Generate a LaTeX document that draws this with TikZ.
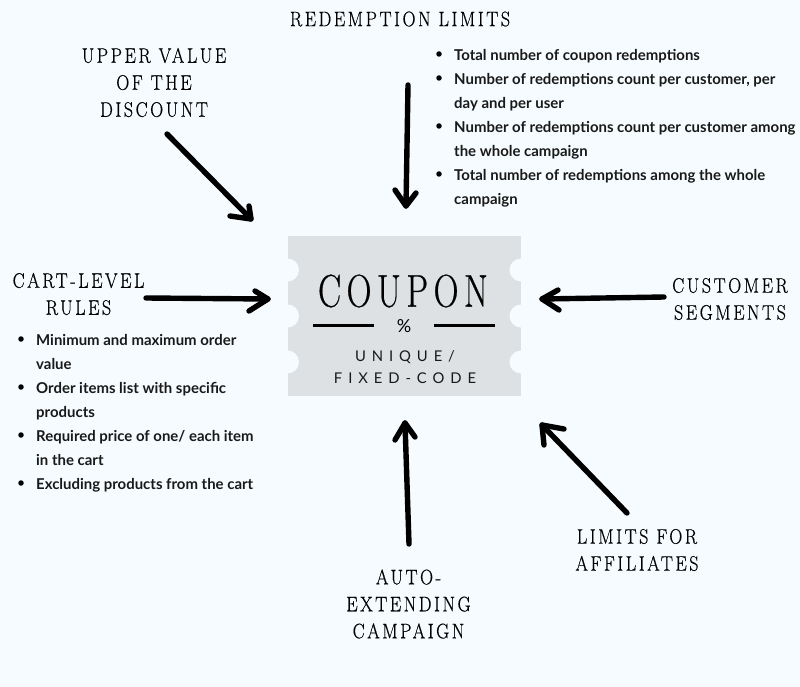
\documentclass[tikz,border=0pt]{standalone}
\usepackage{fontspec}
\usetikzlibrary{arrows.meta}
\newfontfamily\bodyfont{Lato}[BoldFont=* Bold]
\newfontfamily\headfont[LetterSpace=14,FakeBold=0.5]{Latin Modern Roman}
\newfontfamily\bigfont[LetterSpace=16,FakeBold=0.6]{Latin Modern Roman}
\newfontfamily\wideletters[LetterSpace=40]{Lato}
\definecolor{pagebg}{HTML}{F5FBFE}
\definecolor{ticket}{HTML}{DDE1E3}
\tikzset{
  x=1pt,y=-1pt,
  heading/.style={font=\headfont\fontsize{21}{27}\selectfont,align=center,inner sep=0pt,xscale=.86,text=black},
  listline/.style={font=\bodyfont\bfseries\fontsize{14.95}{24}\selectfont,anchor=base west,inner sep=0pt,text=black!90},
  bulletdot/.style={circle,fill=black,inner sep=0pt,minimum size=5.5pt},
  bigarrow/.style={line width=5.4pt,line cap=round,line join=round,black},
  rulebar/.style={line width=3pt,black},
  codetext/.style={font=\wideletters\fontsize{14.8}{22}\selectfont,align=center,inner sep=0pt,text=black!90},
}
\newcommand{\hand}[5]{%
  \coordinate (#1s) at #2; \coordinate (#1t) at #3; \coordinate (#1a) at #4; \coordinate (#1b) at #5;
  \draw[bigarrow] (#1s) -- (#1t);
  \draw[bigarrow] (#1a) -- (#1t) -- (#1b);
}
\begin{document}
\begin{tikzpicture}
\useasboundingbox (0,0) rectangle (800,687);
\fill[pagebg] (0,0) rectangle (800,687);
% ticket
\fill[ticket] (287.5,236) rectangle (521,396);
\foreach \yy in {270,316,362}{
  \fill[pagebg] (287.5,\yy) ++(0,-11.5) arc[start angle=-90,end angle=90,radius=11.5,y=-1pt];
  \fill[pagebg] (521,\yy) ++(0,-11.5) arc[start angle=-90,end angle=-270,radius=11.5,y=-1pt];
}
\node[font=\bigfont\fontsize{46}{46}\selectfont,inner sep=0pt,xscale=.75] (coupon) at (403,291) {COUPON};
\node[font=\bodyfont\fontsize{18}{18}\selectfont,inner sep=0pt] (pct) at (404,326) {\%};
\coordinate (r1a) at (313,325); \coordinate (r1b) at (374,325);
\coordinate (r2a) at (434,325); \coordinate (r2b) at (495,325);
\draw[rulebar] (r1a) -- (r1b);
\draw[rulebar] (r2a) -- (r2b);
\node[codetext] (code) at (405,367) {UNIQUE/\\FIXED-CODE};
% headings
\node[heading] (redeem) at (400,19) {REDEMPTION LIMITS};
\node[heading] (upper) at (154,82.5) {UPPER VALUE\\OF THE\\DISCOUNT};
\node[heading] (cart) at (78.5,294) {CART-LEVEL\\RULES};
\node[heading] (cust) at (730,299) {CUSTOMER\\SEGMENTS};
\node[heading] (aff) at (637,550) {LIMITS FOR\\AFFILIATES};
\node[heading] (auto) at (408.5,604) {AUTO-\\EXTENDING\\ CAMPAIGN};
% arrows
\hand{u}{(167,134)}{(251,219)}{(230,216)}{(249,206)}
\hand{d}{(408,85)}{(406,206)}{(395,190)}{(416,193)}
\hand{c}{(146,298)}{(268,299)}{(255,291)}{(249,311)}
\hand{s}{(664,297)}{(542,299)}{(558,290)}{(559,310)}
\hand{o}{(409,544)}{(405,423)}{(395,440)}{(415,437)}
\hand{l}{(627,513)}{(542,425)}{(544,445)}{(564,429)}
% top list
\foreach \yy/\txt in {54/{Total number of coupon redemptions},78/{Number of redemptions count per customer, per},102/{day and per user},126/{Number of redemptions count per customer among},150/{the whole campaign},174/{Total number of redemptions among the whole},198/{campaign}}{
  \node[listline] at (454,\yy+6.2) {\txt};
}
\foreach \yy in {54,78,126,174}{\node[bulletdot] at (439,\yy) {};}
% left list
\foreach \yy/\txt in {339/{Minimum and maximum order},363/{value},387/{Order items list with specific},411/{products},435/{Required price of one/ each item},459/{in the cart},483/{Excluding products from the cart}}{
  \node[listline] at (36,\yy+6.2) {\txt};
}
\foreach \yy in {339,387,435,483}{\node[bulletdot] at (21,\yy) {};}
\end{tikzpicture}
\end{document}
